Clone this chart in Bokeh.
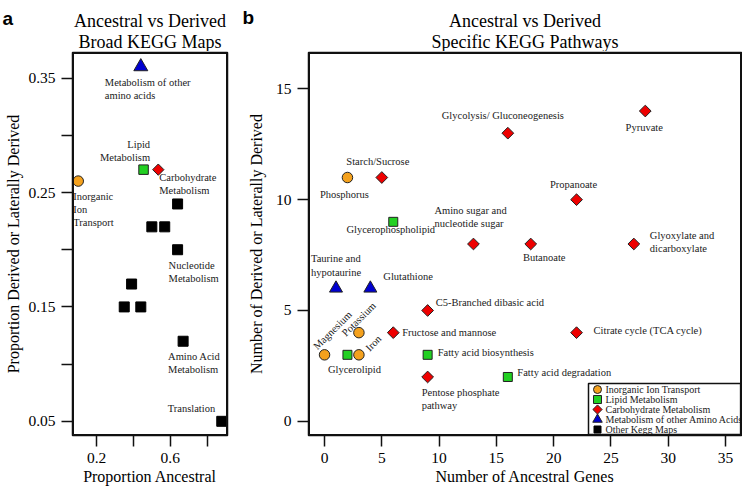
import math
from bokeh.plotting import figure
from bokeh.models import FixedTicker, CustomJSTickFormatter, Range1d
from bokeh.layouts import row, column
from bokeh.core.properties import value
from bokeh.embed import file_html
from bokeh.resources import INLINE

SERIF = "Liberation Serif"

# ---------------- Panel a data (broad KEGG maps) ----------------
a_labels = ["Inorganic\nIon\nTransport", "Lipid\nMetabolism", "Carbohydrate\nMetabolism",
            "Metabolism of other\namino acids",
            "", "", "", "Nucleotide\nMetabolism", "", "", "", "Amino Acid\nMetabolism", "Translation"]
a_group = ["ion", "lipid", "carb", "amino",
           "other", "other", "other", "other", "other", "other", "other", "other", "other"]
a_ancestral = [0.10, 0.455, 0.535, 0.44, 0.64, 0.50, 0.57, 0.64, 0.39, 0.35, 0.44, 0.67, 0.88]
a_derived = [0.26, 0.27, 0.27, 0.36, 0.24, 0.22, 0.22, 0.20, 0.17, 0.15, 0.15, 0.12, 0.05]
a_xticks = [0.2, 0.4, 0.6, 0.8]
a_xlabels_shown = [0.2, 0.6]
a_yticks = [0.05, 0.10, 0.15, 0.20, 0.25, 0.30, 0.35]
a_ylabels_shown = [0.05, 0.15, 0.25, 0.35]

# ---------------- Panel b data (specific KEGG pathways) ----------------
b_labels = ["Phosphorus", "Magnesium", "Potassium", "Iron",
            "Glycerophospholipid", "Glycerolipid", "Fatty acid biosynthesis", "Fatty acid degradation",
            "Starch/Sucrose", "Glycolysis/ Gluconeogenesis", "Pyruvate", "Propanoate",
            "Amino sugar and\nnucleotide sugar", "Butanoate", "Glyoxylate and\ndicarboxylate",
            "C5-Branched dibasic acid", "Fructose and mannose", "Citrate cycle (TCA cycle)",
            "Pentose phosphate\n pathway",
            "Taurine and\nhypotaurine", "Glutathione"]
b_group = ["ion"] * 4 + ["lipid"] * 4 + ["carb"] * 11 + ["amino"] * 2
b_ancestral = [2, 0, 3, 3, 6, 2, 9, 16, 5, 16, 28, 22, 13, 18, 27, 9, 6, 22, 9, 1, 4]
b_derived = [11, 3, 4, 3, 9, 3, 3, 2, 11, 13, 14, 10, 8, 8, 8, 5, 4, 4, 2, 6, 6]
b_xticks = [0, 5, 10, 15, 20, 25, 30, 35]
b_yticks = [0, 5, 10, 15]
b_ylim = [0, 16]

legend_groups = ["ion", "lipid", "carb", "amino", "other"]
legend_texts = ["Inorganic Ion Transport", "Lipid Metabolism", "Carbohydrate Metabolism",
                "Metabolism of other Amino Acids", "Other Kegg Maps"]

titles_a = ["Ancestral vs Derived", "Broad KEGG Maps"]
titles_b = ["Ancestral vs Derived", "Specific KEGG Pathways"]

# ---------------- styles ----------------
GROUP_STYLE = {
    "ion":   dict(marker="circle", fill="#F4A11D", line="#222222", angle=0.0),
    "lipid": dict(marker="square", fill="#22D022", line="#222222", angle=0.0),
    "carb":  dict(marker="square", fill="#EE0000", line="#222222", angle=math.pi / 4),
    "amino": dict(marker="triangle", fill="#0000D0", line="#222222", angle=0.0),
    "other": dict(marker="square", fill="#000000", line="#000000", angle=0.0),
}
SIZE_A = {"ion": 10.5, "lipid": 9.5, "carb": 8, "amino": 14, "other": 10}
SIZE_B = {"ion": 10.5, "lipid": 9, "carb": 8.3, "amino": 13, "other": 9}
SIZE_LEG = {"ion": 8, "lipid": 8, "carb": 6.5, "amino": 9.5, "other": 7}

# label placement: (dx px, dy px (down), align, baseline, angle deg)
A_LABEL_POS = {
    "Inorganic\nIon\nTransport": (-5, 10, "left", "top", 0),
    "Lipid\nMetabolism": (6.5, -31, "right", "top", 0),
    "Carbohydrate\nMetabolism": (1, 2, "left", "top", 0),
    "Metabolism of other\namino acids": (-36, 10, "left", "top", 0),
    "Nucleotide\nMetabolism": (-9, 10, "left", "top", 0),
    "Amino Acid\nMetabolism": (-15, 10, "left", "top", 0),
    "Translation": (-54, -13, "left", "middle", 0),
}
B_LABEL_POS = {
    "Phosphorus": (-3, 16.5, "center", "middle", 0),
    "Magnesium": (8, -24.5, "center", "middle", 45),
    "Potassium": (0, -13.5, "center", "middle", 45),
    "Iron": (14.5, -11.5, "center", "middle", 45),
    "Glycerophospholipid": (-2.5, 8, "center", "middle", 0),
    "Glycerolipid": (7, 14.5, "center", "middle", 0),
    "Fatty acid biosynthesis": (10, -2, "left", "middle", 0),
    "Fatty acid degradation": (9.5, -4.5, "left", "middle", 0),
    "Starch/Sucrose": (-4, -16.5, "center", "middle", 0),
    "Glycolysis/ Gluconeogenesis": (-5, -17.5, "center", "middle", 0),
    "Pyruvate": (-1, 16, "center", "middle", 0),
    "Propanoate": (-3, -15.5, "center", "middle", 0),
    "Amino sugar and\nnucleotide sugar": (-39, -39, "left", "top", 0),
    "Butanoate": (13.5, 13, "center", "middle", 0),
    "Glyoxylate and\ndicarboxylate": (16, -14, "left", "top", 0),
    "C5-Branched dibasic acid": (8, -8, "left", "middle", 0),
    "Fructose and mannose": (9, 0, "left", "middle", 0),
    "Citrate cycle (TCA cycle)": (17, -2, "left", "middle", 0),
    "Pentose phosphate\n pathway": (-6, 10, "left", "top", 0),
    "Taurine and\nhypotaurine": (-25, -35, "left", "top", 0),
    "Glutathione": (13, -12, "left", "middle", 0),
}

TICK_FONT = "15.5px"
LABEL_FONT = "10.5px"
TITLE_FONT = "18px"
AXTITLE_FONT = "16px"
BOX_W = 1.5


def r_range(lo, hi):
    pad = (hi - lo) * 0.04
    return lo - pad, hi + pad


def style(p):
    p.outline_line_color = "#111111"
    p.outline_line_width = 1.5
    p.xgrid.visible = False
    p.ygrid.visible = False
    p.background_fill_color = "white"
    p.border_fill_color = "white"
    for ax in p.axis:
        ax.axis_line_color = None
        ax.major_tick_out = 11
        ax.major_tick_in = 0
        ax.minor_tick_out = 0
        ax.minor_tick_in = 0
        ax.major_tick_line_color = "#111111"
        ax.major_tick_line_width = 1.5
        ax.major_label_text_font = SERIF
        ax.major_label_text_font_size = TICK_FONT
        ax.major_label_text_color = "black"
        ax.major_label_standoff = 6
        ax.axis_label_text_font = SERIF
        ax.axis_label_text_font_size = AXTITLE_FONT
        ax.axis_label_text_font_style = "normal"
        ax.axis_label_text_color = "black"


def frame_box(p, xr, yr, fw, fh):
    # box around the plotting region, inset by half a stroke
    hx = 0.5 * BOX_W * (xr[1] - xr[0]) / fw
    hy = 0.5 * BOX_W * (yr[1] - yr[0]) / fh
    l, r, b, t = xr[0] + hx, xr[1] - hx, yr[0] + hy, yr[1] - hy
    p.line([l, r, r, l, l], [b, b, t, t, b], line_color="#111111", line_width=BOX_W,
           line_join="miter")


def shown_formatter(shown, digits):
    return CustomJSTickFormatter(args=dict(shown=shown, d=digits), code="""
        for (const v of shown) { if (Math.abs(v - tick) < 1e-6) return tick.toFixed(d); }
        return "";
    """)


def draw_points(p, xs, ys, groups, sizes):
    for g in legend_groups:
        idx = [i for i, gg in enumerate(groups) if gg == g]
        if not idx:
            continue
        st = GROUP_STYLE[g]
        p.scatter([xs[i] for i in idx], [ys[i] for i in idx], marker=st["marker"],
                  size=sizes[g], fill_color=st["fill"], line_color=st["line"],
                  line_width=1, angle=st["angle"])


def draw_labels(p, xs, ys, labels, pos):
    for x, y, t in zip(xs, ys, labels):
        if not t:
            continue
        dx, dy, al, bl, ang = pos[t]
        p.text([x], [y], text=[t], x_offset=dx, y_offset=dy, text_align=al,
               text_baseline=bl, angle=math.radians(ang),
               text_font=value(SERIF), text_font_size=value(LABEL_FONT),
               text_color="#1a1a1a", text_line_height=1.2)


# ---------------- header strip (panel letters and titles) ----------------
HEADER_H = 51
hd = figure(width=742, height=HEADER_H, x_range=Range1d(0, 742), y_range=Range1d(HEADER_H, 0),
            output_backend="svg", toolbar_location=None, min_border=0,
            x_axis_type=None, y_axis_type=None)
hd.outline_line_color = None
hd.background_fill_color = "white"
hd.border_fill_color = "white"
for cx, lines in ((149.5, titles_a), (524.5, titles_b)):
    hd.text([cx, cx], [20, 41.5], text=lines, text_align="center", text_baseline="alphabetic",
            text_font=value(SERIF), text_font_size=value(TITLE_FONT), text_color="black")
hd.text([2, 242], [18, 16.5], text=["a", "b"], text_align="left", text_baseline="alphabetic",
        text_font=value("Liberation Sans"), text_font_size=value("19px"),
        text_font_style="bold", text_color="black")

PLOT_H = 490 - HEADER_H

# ---------------- Panel a ----------------
ax0, ax1 = r_range(min(a_ancestral), max(a_ancestral))
ay0, ay1 = r_range(min(a_derived), max(a_derived))
pa = figure(width=240, height=PLOT_H, output_backend="svg", toolbar_location=None,
            x_range=Range1d(ax0, ax1), y_range=Range1d(ay0, ay1),
            min_border_left=72, min_border_right=13, min_border_top=1, min_border_bottom=55,
            x_axis_label="Proportion Ancestral",
            y_axis_label="Proportion Derived or Laterally Derived")
pa.xaxis.ticker = FixedTicker(ticks=a_xticks)
pa.xaxis.formatter = shown_formatter(a_xlabels_shown, 1)
pa.yaxis.ticker = FixedTicker(ticks=a_yticks)
pa.yaxis.formatter = shown_formatter(a_ylabels_shown, 2)
style(pa)
pa.xaxis[0].axis_label_standoff = 2
pa.yaxis[0].axis_label_standoff = 3
draw_points(pa, a_ancestral, a_derived, a_group, SIZE_A)
draw_labels(pa, a_ancestral, a_derived, a_labels, A_LABEL_POS)
frame_box(pa, (ax0, ax1), (ay0, ay1), 155, 383)

# ---------------- Panel b ----------------
bx0, bx1 = r_range(min(b_xticks), max(b_xticks))
by0, by1 = r_range(b_ylim[0], b_ylim[1])
FW_B, FH_B = 433, 383
pb = figure(width=502, height=PLOT_H, output_backend="svg", toolbar_location=None,
            x_range=Range1d(bx0, bx1), y_range=Range1d(by0, by1),
            min_border_left=68, min_border_right=1, min_border_top=1, min_border_bottom=55,
            x_axis_label="Number of Ancestral Genes",
            y_axis_label="Number of Derived or Laterally Derived")
pb.xaxis.ticker = FixedTicker(ticks=b_xticks)
pb.yaxis.ticker = FixedTicker(ticks=b_yticks)
style(pb)
pb.xaxis[0].axis_label_standoff = 2
pb.yaxis[0].axis_label_standoff = 8

draw_points(pb, b_ancestral, b_derived, b_group, SIZE_B)
draw_labels(pb, b_ancestral, b_derived, b_labels, B_LABEL_POS)

# legend box (positioned from frame pixels)
ppx = (bx1 - bx0) / FW_B
ppy = (by1 - by0) / FH_B
pb.quad(left=[bx0 + 280 * ppx], right=[bx1 - 0.9 * ppx], bottom=[by0 + 0.9 * ppy],
        top=[by0 + 52 * ppy], fill_color="white", line_color="#111111", line_width=1.5)
for k, (g, t) in enumerate(zip(legend_groups, legend_texts)):
    yy = by0 + (46 - 10 * k) * ppy
    st = GROUP_STYLE[g]
    pb.scatter([bx0 + 289 * ppx], [yy], marker=st["marker"], size=SIZE_LEG[g],
               fill_color=st["fill"], line_color=st["line"], line_width=1, angle=st["angle"])
    pb.text([bx0 + 297 * ppx], [yy], text=[t], text_align="left", text_baseline="middle",
            text_font=value(SERIF), text_font_size=value("10px"), text_color="#1a1a1a")

frame_box(pb, (bx0, bx1), (by0, by1), FW_B, FH_B)

layout = column(hd, row(pa, pb))
open("out.html", "w").write(file_html(layout, INLINE))
